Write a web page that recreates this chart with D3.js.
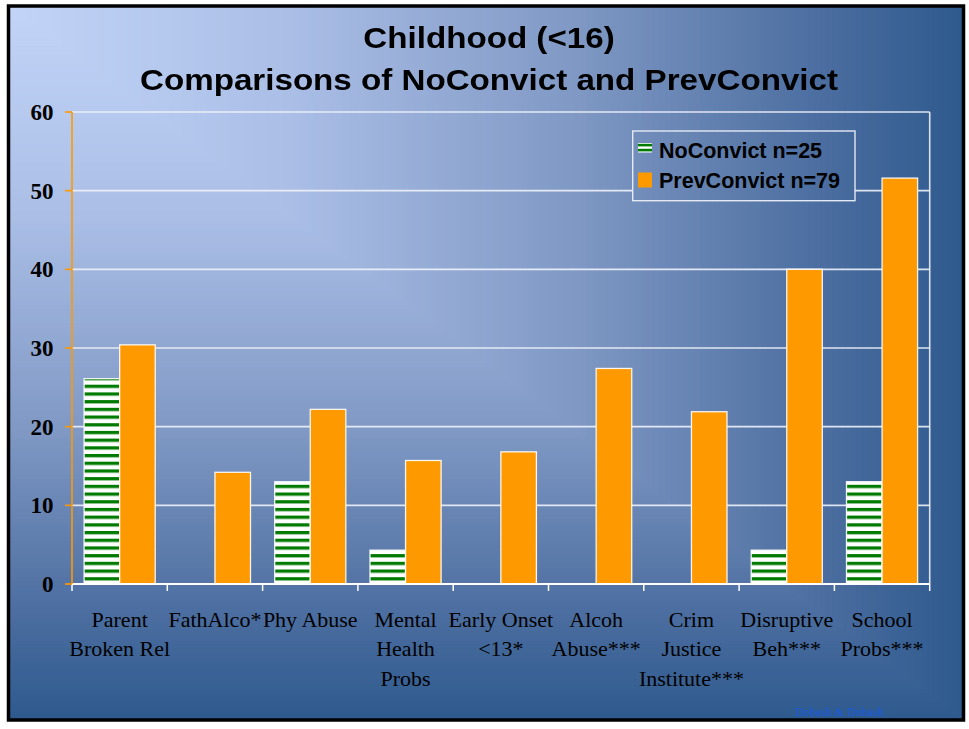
<!DOCTYPE html>
<html>
<head>
<meta charset="utf-8">
<script src="https://cdn.jsdelivr.net/npm/d3@7"></script>
<style>
  html, body { margin: 0; padding: 0; background: #ffffff; }
  svg { display: block; }
</style>
</head>
<body>
<script>
// ---- data ----
const titleLines = ["Childhood (<16)", "Comparisons of NoConvict and PrevConvict"];
const categories = [
  ["Parent", "Broken Rel"],
  ["FathAlco*"],
  ["Phy Abuse"],
  ["Mental", "Health", "Probs"],
  ["Early Onset", "<13*"],
  ["Alcoh", "Abuse***"],
  ["Crim", "Justice", "Institute***"],
  ["Disruptive", "Beh***"],
  ["School", "Probs***"]
];
const seriesNames = ["NoConvict n=25", "PrevConvict n=79"];
const noConvict   = [26.1, 0, 13.0, 4.3, 0, 0, 0, 4.3, 13.0];
const prevConvict = [30.4, 14.2, 22.2, 15.7, 16.8, 27.4, 21.9, 40.0, 51.6];
const yTicks = [0, 10, 20, 30, 40, 50, 60];
const sourceNote = "Dobash & Dobash";

// ---- layout ----
const W = 969, H = 729;
const frame = { x: 8.5, y: 6, w: 955, h: 714 };
const plot = { left: 72, right: 929.7, top: 112, bottom: 584 };

const svg = d3.select("body").append("svg")
  .attr("width", W).attr("height", H);

const defs = svg.append("defs");

// "from corner" slide fill: colour depends on max(x/w, y/h) measured from the top-left corner,
// built from nested rectangles anchored at that corner (largest / darkest first)
const bgColor = d3.scaleLinear()
  .domain([0, 0.3, 0.6, 0.85, 1])
  .range(["#c2d4f7", "#aabee6", "#7f98c4", "#4c6ea0", "#2f5a8e"])
  .interpolate(d3.interpolateRgb);
const steps = 160;
const bgGroup = defs.append("g").attr("id", "bgFill");
bgGroup.selectAll("rect")
  .data(d3.range(steps, 0, -1).map(s => s / steps))
  .join("rect")
  .attr("x", frame.x).attr("y", frame.y)
  .attr("width", t => frame.w * t).attr("height", t => frame.h * t)
  .attr("fill", t => bgColor(t));

// horizontal green stripes on white for the first series
const stripe = defs.append("pattern")
  .attr("id", "greenStripes")
  .attr("patternUnits", "userSpaceOnUse")
  .attr("x", 0).attr("y", 577.2)
  .attr("width", 8).attr("height", 7.7);
stripe.append("rect").attr("width", 8).attr("height", 7.7).attr("fill", "#ffffff");
stripe.append("rect").attr("y", -0.5).attr("width", 8).attr("height", 4).attr("fill", "#78b878");
stripe.append("rect").attr("y", 0).attr("width", 8).attr("height", 3).attr("fill", "#007a00");

// compact stripe swatch for the legend key
const lstripe = defs.append("pattern")
  .attr("id", "legendStripes")
  .attr("patternUnits", "userSpaceOnUse")
  .attr("x", 0).attr("y", 143)
  .attr("width", 14).attr("height", 5);
lstripe.append("rect").attr("width", 14).attr("height", 5).attr("fill", "#ffffff");
lstripe.append("rect").attr("y", 0.8).attr("width", 14).attr("height", 2.6).attr("fill", "#007a00");

// soft edge on the title text
defs.append("filter").attr("id", "soft")
  .append("feGaussianBlur").attr("stdDeviation", 0.45);

// clip used to repaint the slide fill inside the legend box
const legendBox = { x: 632.7, y: 131, w: 222.3, h: 69.7 };
defs.append("clipPath").attr("id", "legendClip")
  .append("rect")
  .attr("x", legendBox.x).attr("y", legendBox.y)
  .attr("width", legendBox.w).attr("height", legendBox.h);

// background panel
svg.append("use").attr("href", "#bgFill");

// ---- title ----
const titleG = svg.append("g").attr("filter", "url(#soft)");
titleLines.forEach((t, i) => {
  titleG.append("text")
    .attr("transform", `translate(489,${47.5 + i * 42.5}) scale(1.105,1)`)
    .attr("text-anchor", "middle")
    .attr("font-family", "'Liberation Sans', Arial, sans-serif")
    .attr("font-weight", "bold")
    .attr("font-size", 30)
    .attr("fill", "#000")
    .text(t);
});

// ---- scales ----
const x0 = d3.scaleBand()
  .domain(d3.range(categories.length))
  .range([plot.left, plot.right])
  .paddingInner(0).paddingOuter(0);

const x1 = d3.scaleBand()
  .domain(seriesNames)
  .range([0, x0.bandwidth()])
  .paddingInner(0).paddingOuter(0.34);

const y = d3.scaleLinear()
  .domain([0, 60])
  .range([plot.bottom, plot.top]);

// ---- gridlines ----
svg.append("g")
  .selectAll("line")
  .data(yTicks.filter(d => d > 0))
  .join("line")
  .attr("x1", plot.left).attr("x2", plot.right)
  .attr("y1", d => y(d)).attr("y2", d => y(d))
  .attr("stroke", "#eef2fa").attr("stroke-opacity", 0.9).attr("stroke-width", 1.6);

// right border of the plot area
svg.append("line")
  .attr("x1", plot.right).attr("x2", plot.right)
  .attr("y1", plot.top).attr("y2", plot.bottom)
  .attr("stroke", "#eef2fa").attr("stroke-opacity", 0.9).attr("stroke-width", 1.6);

// ---- bars ----
const rows = categories.map((c, i) => ({ i, values: [noConvict[i], prevConvict[i]] }));
const fills = ["url(#greenStripes)", "#ff9900"];

const groups = svg.append("g")
  .selectAll("g")
  .data(rows)
  .join("g")
  .attr("transform", d => `translate(${x0(d.i)},0)`);

groups.selectAll("rect")
  .data(d => d.values.map((v, k) => ({ k, v })).filter(e => e.v > 0))
  .join("rect")
  .attr("x", e => x1(seriesNames[e.k]))
  .attr("width", x1.bandwidth())
  .attr("y", e => y(e.v))
  .attr("height", e => y(0) - y(e.v))
  .attr("fill", e => fills[e.k])
  .attr("stroke", "#ffffff").attr("stroke-opacity", 0.9).attr("stroke-width", 1.3);

// ---- x axis ----
const xAxisG = svg.append("g");
xAxisG.append("line")
  .attr("x1", plot.left).attr("x2", plot.right)
  .attr("y1", plot.bottom).attr("y2", plot.bottom)
  .attr("stroke", "#ffffff").attr("stroke-width", 1.8);

const boundaries = d3.range(categories.length + 1).map(i =>
  i < categories.length ? x0(i) : x0(i - 1) + x0.bandwidth());
xAxisG.selectAll("line.tick")
  .data(boundaries)
  .join("line")
  .attr("class", "tick")
  .attr("x1", d => d).attr("x2", d => d)
  .attr("y1", plot.bottom).attr("y2", plot.bottom + 7)
  .attr("stroke", "#ffffff").attr("stroke-width", 1.5);

const labelG = xAxisG.selectAll("text.cat")
  .data(categories)
  .join("text")
  .attr("class", "cat")
  .attr("text-anchor", "middle")
  .attr("font-family", "'Liberation Serif', 'Times New Roman', serif")
  .attr("font-size", 22)
  .attr("fill", "#000");
labelG.each(function (lines, i) {
  const cx = x0(i) + x0.bandwidth() / 2;
  d3.select(this).selectAll("tspan")
    .data(lines)
    .join("tspan")
    .attr("x", cx)
    .attr("y", (d, j) => plot.bottom + 42.5 + j * 29.5)
    .text(d => d);
});

// ---- y axis ----
const yAxisG = svg.append("g");
yAxisG.append("line")
  .attr("x1", plot.left).attr("x2", plot.left)
  .attr("y1", plot.top).attr("y2", plot.bottom)
  .attr("stroke", "#ff9900").attr("stroke-width", 1.6);
yAxisG.selectAll("line.tick")
  .data(yTicks)
  .join("line")
  .attr("class", "tick")
  .attr("x1", plot.left - 7).attr("x2", plot.left)
  .attr("y1", d => y(d)).attr("y2", d => y(d))
  .attr("stroke", "#ff9900").attr("stroke-width", 1.6);
yAxisG.selectAll("text")
  .data(yTicks)
  .join("text")
  .attr("x", 53.5)
  .attr("y", d => y(d) + 8)
  .attr("text-anchor", "end")
  .attr("font-family", "'Liberation Serif', 'Times New Roman', serif")
  .attr("font-weight", "bold")
  .attr("font-size", 23)
  .attr("fill", "#000")
  .text(d => d);

// ---- legend ----
const legend = svg.append("g");
legend.append("use")
  .attr("href", "#bgFill")
  .attr("clip-path", "url(#legendClip)");
legend.append("rect")
  .attr("x", legendBox.x).attr("y", legendBox.y)
  .attr("width", legendBox.w).attr("height", legendBox.h)
  .attr("fill", "none")
  .attr("stroke", "#e4e9f2").attr("stroke-width", 1.4);

const legendItems = legend.selectAll("g.item")
  .data(seriesNames)
  .join("g")
  .attr("class", "item")
  .attr("transform", (d, k) => `translate(638,${k * 30})`);

legendItems.append("rect")
  .attr("x", 0)
  .attr("y", (d, k) => k === 0 ? 143 : 142.5)
  .attr("width", 14)
  .attr("height", (d, k) => k === 0 ? 9.5 : 15)
  .attr("fill", (d, k) => k === 0 ? "url(#legendStripes)" : fills[k]);

legendItems.append("text")
  .attr("x", 21)
  .attr("y", 158.3)
  .attr("font-family", "'Liberation Sans', Arial, sans-serif")
  .attr("font-weight", "bold")
  .attr("font-size", 21.5)
  .attr("fill", "#000")
  .text(d => d);

// ---- source note ----
svg.append("text")
  .attr("x", 839).attr("y", 716)
  .attr("text-anchor", "middle")
  .attr("font-family", "'Liberation Serif', 'Times New Roman', serif")
  .attr("font-size", 12)
  .attr("fill", "#1a5ae6")
  .text(sourceNote);

// black frame around the slide
svg.append("rect")
  .attr("x", frame.x).attr("y", frame.y).attr("width", frame.w).attr("height", frame.h)
  .attr("fill", "none")
  .attr("stroke", "#000").attr("stroke-width", 3.5);
</script>
</body>
</html>
